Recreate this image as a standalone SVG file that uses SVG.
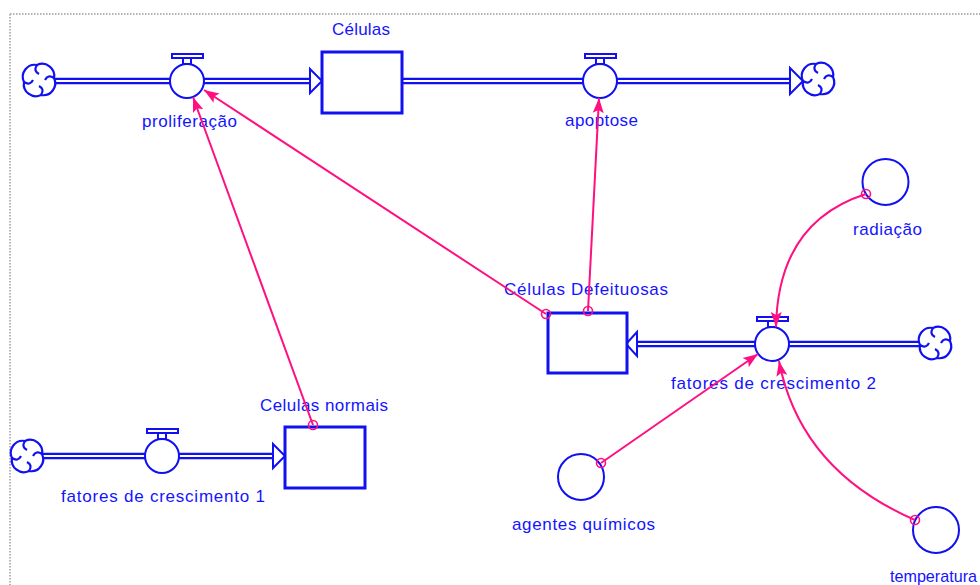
<svg xmlns="http://www.w3.org/2000/svg" width="980" height="585" viewBox="0 0 980 585">
<style>
.lbl{font-family:"Liberation Sans",Arial,sans-serif;font-size:17px;fill:#1414ff}
.pipeo{stroke:#1010f0;stroke-width:6.5;fill:none}
.pipei{stroke:#fff;stroke-width:2;fill:none}
.blue{stroke:#1010f0;stroke-width:2;fill:#fff}
.stock{stroke:#1010f0;stroke-width:3;fill:#fff}
.link{stroke:#ff1080;stroke-width:2;fill:none}
.orig{stroke:#ff1080;stroke-width:1.6;fill:none}
.cloud{stroke:#1010f0;stroke-width:2.2;fill:#fff}
.cloudh{stroke:#1010f0;stroke-width:2.2;fill:none}
</style>
<defs>
<marker id="arr" viewBox="0 -6 16 12" refX="15" refY="0" markerWidth="16" markerHeight="12" markerUnits="userSpaceOnUse" orient="auto">
<path d="M0,-5.5 L15,0 L0,5.5 L3,0 Z" fill="#ff1080"/>
</marker>
<g id="cloudsym">
<path class="cloud" d="M-2,-15 A12,12 0 0 1 15,-2 A12,12 0 0 1 2,15 A12,12 0 0 1 -15,2 A12,12 0 0 1 -2,-15 Z"/>
<path class="cloudh" d="M-2,-15 Q-6,-9 0,-6 M15,-2 Q9,-6 6,0 M2,15 Q6,9 0,6 M-15,2 Q-9,6 -6,0"/>
</g>
<g id="valvesym">
<rect class="blue" x="-15" y="-27" width="31" height="4" stroke-width="1.8"/>
<rect class="blue" x="-4" y="-23" width="8" height="6" stroke-width="1.6"/>
<circle class="blue" cx="0" cy="0" r="17"/>
</g>
</defs>
<rect x="0" y="0" width="980" height="585" fill="#fff"/>
<path d="M10,14 H980 M10,14 V585" stroke="#b4b4b4" stroke-width="2" stroke-dasharray="1.5 1.5" fill="none"/>

<g id="pipes">
<path class="pipeo" d="M54,81 H311"/><path class="pipei" d="M54,81 H311"/>
<path class="pipeo" d="M402,81 H791"/><path class="pipei" d="M402,81 H791"/>
<path class="pipeo" d="M41,456 H274"/><path class="pipei" d="M41,456 H274"/>
<path class="pipeo" d="M636,344 H920"/><path class="pipei" d="M636,344 H920"/>
<path class="blue" d="M310,69 L322,81 L310,93 Z"/>
<path class="blue" d="M790,68 L803,81 L790,94 Z"/>
<path class="blue" d="M273,444 L285,456 L273,468 Z"/>
<path class="blue" d="M637,332 L626,344 L637,356 Z"/>
</g>

<g id="cloud1"><use href="#cloudsym" x="39" y="80"/></g>
<g id="cloud2"><use href="#cloudsym" x="818" y="79"/></g>
<g id="cloud3"><use href="#cloudsym" x="27" y="456"/></g>
<g id="cloud4"><use href="#cloudsym" x="935" y="343"/></g>

<g id="celulas">
<rect class="stock" x="322" y="52" width="80" height="61"/>
<text class="lbl" x="332" y="35" textLength="58" lengthAdjust="spacing">Células</text>
</g>
<g id="proliferacao">
<use href="#valvesym" x="187" y="81"/>
<text class="lbl" x="142" y="127" textLength="95" lengthAdjust="spacing">proliferação</text>
</g>
<g id="apoptose">
<use href="#valvesym" x="600" y="81"/>
<text class="lbl" x="565" y="126" textLength="73" lengthAdjust="spacing">apoptose</text>
</g>
<g id="celulas_defeituosas">
<rect class="stock" x="548" y="313" width="79" height="60"/>
<text class="lbl" x="504" y="295" textLength="164" lengthAdjust="spacing">Células Defeituosas</text>
</g>
<g id="fatores2">
<use href="#valvesym" x="772" y="344"/>
<text class="lbl" x="671" y="389" textLength="205" lengthAdjust="spacing">fatores de crescimento 2</text>
</g>
<g id="celulas_normais">
<rect class="stock" x="285" y="427" width="80" height="61"/>
<text class="lbl" x="260" y="411" textLength="128" lengthAdjust="spacing">Celulas normais</text>
</g>
<g id="fatores1">
<use href="#valvesym" x="162" y="456"/>
<text class="lbl" x="61" y="502" textLength="204" lengthAdjust="spacing">fatores de crescimento 1</text>
</g>
<g id="radiacao">
<circle class="blue" cx="885.5" cy="182" r="23"/>
<text class="lbl" x="853" y="235" textLength="69" lengthAdjust="spacing">radiação</text>
</g>
<g id="agentes">
<circle class="blue" cx="581" cy="477" r="23"/>
<text class="lbl" x="512" y="530" textLength="143" lengthAdjust="spacing">agentes químicos</text>
</g>
<g id="temperatura">
<circle class="blue" cx="936" cy="530" r="23"/>
<text class="lbl" x="890" y="582" textLength="87" lengthAdjust="spacingAndGlyphs">temperatura</text>
</g>

<g id="connectors">
<path class="link" d="M313,425 L193,97" marker-end="url(#arr)"/>
<path class="link" d="M546,314 L204,90" marker-end="url(#arr)"/>
<path class="link" d="M588,311 L599,98" marker-end="url(#arr)"/>
<path class="link" d="M866,194 Q778,222 776,327" marker-end="url(#arr)"/>
<path class="link" d="M601,463 L758,354" marker-end="url(#arr)"/>
<path class="link" d="M915,520 Q800,470 779,361" marker-end="url(#arr)"/>
<circle class="orig" cx="313" cy="425" r="4.5"/>
<circle class="orig" cx="546" cy="314" r="4.5"/>
<circle class="orig" cx="588" cy="311" r="4.5"/>
<circle class="orig" cx="866" cy="194" r="4.5"/>
<circle class="orig" cx="601" cy="463" r="4.5"/>
<circle class="orig" cx="915" cy="520" r="4.5"/>
</g>
</svg>
